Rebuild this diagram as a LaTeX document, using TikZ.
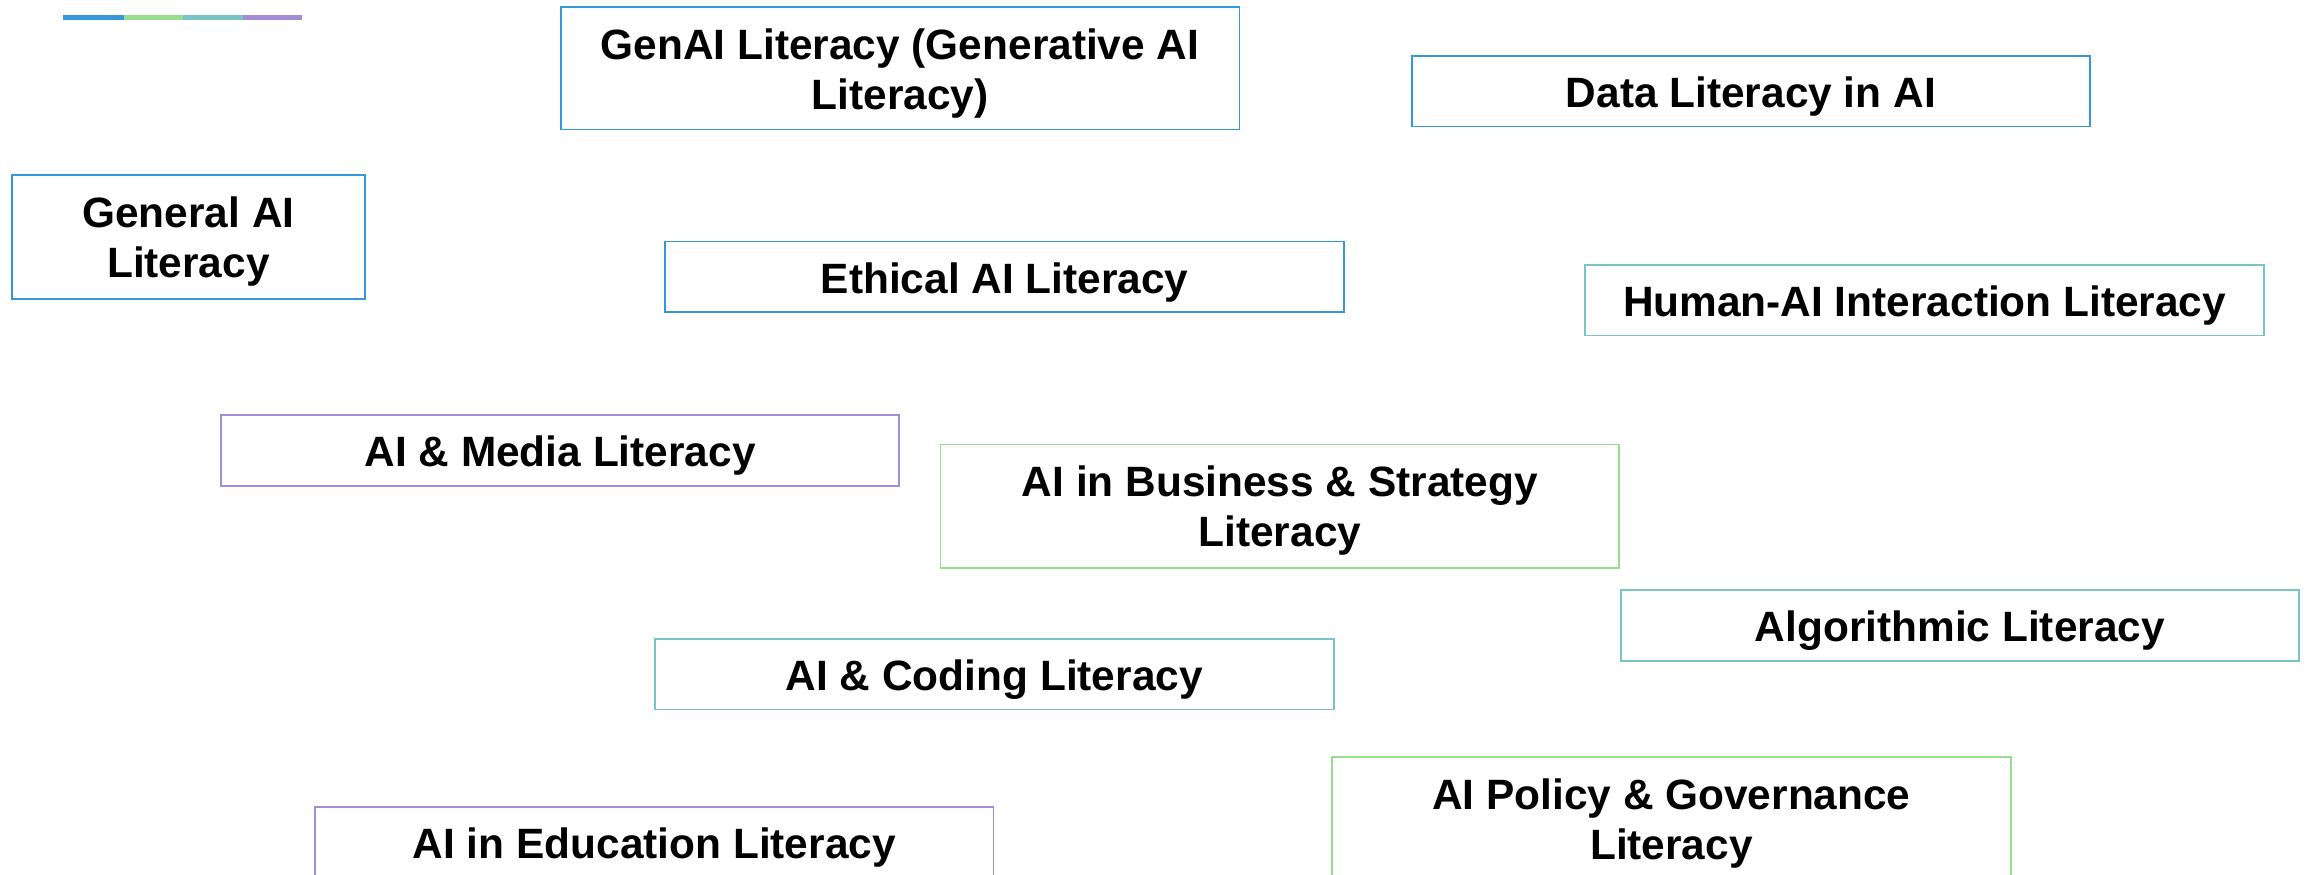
\documentclass[tikz,border=0pt]{standalone}
\usepackage{fontspec}
\setmainfont{Liberation Sans}
\definecolor{cblue}{HTML}{3498DB}
\definecolor{cgreen}{HTML}{99DD8F}
\definecolor{cteal}{HTML}{7BC4C6}
\definecolor{cpurple}{HTML}{A38CD6}
\newcommand\twoln[2]{\raisebox{-2.8pt}[\height][\depth]{\begin{tabular}{@{}c@{}}#1\\#2\end{tabular}}}
\begin{document}
\begin{tikzpicture}[x=0.736pt,y=-0.736pt,
  lbox/.style={draw=#1, line width=0.9pt, fill=white, rectangle, inner sep=0pt,
    minimum width=339.3pt, minimum height=35.3pt,
    font=\fontsize{21.2}{25}\selectfont\bfseries},
  tall/.style={minimum height=61.8pt},
  bar/.style={line width=2.3pt, draw=#1}]
\useasboundingbox (0,0) rectangle (1568,594.4);
% top bar
\coordinate (b0) at (43,12);
\coordinate (b1) at (84,12);
\coordinate (b2) at (124,12);
\coordinate (b3) at (165,12);
\coordinate (b4) at (205,12);
\draw[bar=cblue] (b0) -- (b1);
\draw[bar=cgreen] (b1) -- (b2);
\draw[bar=cteal] (b2) -- (b3);
\draw[bar=cpurple] (b3) -- (b4);
% boxes
\node[lbox=cblue, tall, minimum height=61.1pt] (genai) at (611.5,46.5) {\twoln{GenAI Literacy (Generative AI}{Literacy)}};
\node[lbox=cblue] (data) at (1189.5,62) {\rule{0pt}{20.8pt}Data Literacy in AI};
\node[lbox=cblue, tall, minimum width=176.6pt] (general) at (128,161) {\twoln{General AI}{Literacy}};
\node[lbox=cblue] (ethical) at (682.5,188) {\rule{0pt}{20.8pt}Ethical AI Literacy};
\node[lbox=cteal] (human) at (1307.5,204) {\rule{0pt}{20.8pt}Human-AI Interaction Literacy};
\node[lbox=cpurple] (media) at (380.5,306) {\rule{0pt}{20.8pt}AI \& Media Literacy};
\node[lbox=cgreen, tall] (business) at (869.5,344) {\twoln{AI in Business \& Strategy}{Literacy}};
\node[lbox=cteal] (algo) at (1331.5,425) {\rule{0pt}{20.8pt}Algorithmic Literacy};
\node[lbox=cteal] (coding) at (675.5,458) {\rule{0pt}{20.8pt}AI \& Coding Literacy};
\node[lbox=cgreen, tall] (policy) at (1135.5,556) {\twoln{AI Policy \& Governance}{Literacy}};
\node[lbox=cpurple] (edu) at (444.5,572) {\rule{0pt}{20.8pt}AI in Education Literacy};
\end{tikzpicture}
\end{document}
